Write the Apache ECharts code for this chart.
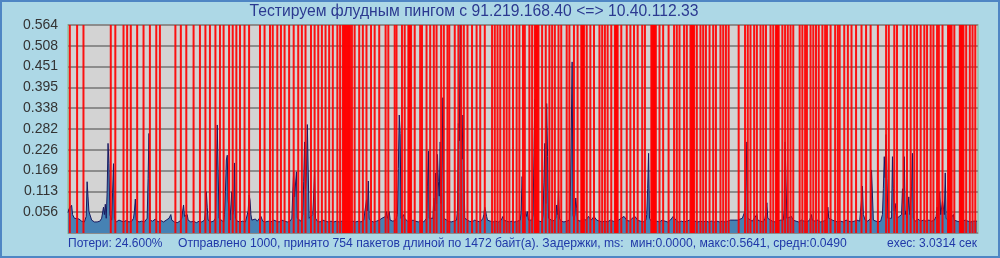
<!DOCTYPE html>
<html><head><meta charset="utf-8">
<script src="https://cdn.jsdelivr.net/npm/echarts@6/dist/echarts.min.js"></script>
<style>html,body{margin:0;padding:0;background:#add8e6;}#c{width:1000px;height:258px;}</style>
</head><body><div id="c"></div>
<script>
const titleText = 'Тестируем флудным пингом с 91.219.168.40 <=> 10.40.112.33';
const lossText = 'Потери: 24.600%';
const statText = 'Отправлено 1000, принято 754 пакетов длиной по 1472 байт(а). Задержки, ms:  мин:0.0000, макс:0.5641, средн:0.0490';
const execText = 'exec: 3.0314 сек';
const packetCount = 1000;
const yMax = 0.5641;
const yStep = 0.05641;

// latency samples [packet index, ms]
const latency = [
[0,0.055],[1,0.065],[3,0.07],[4,0.075],[5,0.05],[7,0.04],[9,0.035],[12,0.038],[15,0.032],[18,0.03],[20,0.045],[21,0.139],[22,0.098],[23,0.058],[24,0.06],[26,0.035],[29,0.03],[32,0.03],[35,0.032],[37,0.04],[38,0.035],[39,0.07],[40,0.05],[41,0.078],[42,0.04],[43,0.11],[44,0.243],[45,0.189],[46,0.05],[48,0.035],[49,0.11],[50,0.188],[51,0.04],[53,0.03],[56,0.035],[58,0.032],[61,0.03],[64,0.034],[67,0.03],[70,0.032],[72,0.04],[73,0.06],[74,0.092],[75,0.035],[78,0.03],[81,0.032],[84,0.03],[86,0.035],[87,0.04],[88,0.148],[89,0.27],[90,0.035],[93,0.032],[96,0.038],[99,0.03],[102,0.034],[105,0.03],[108,0.035],[111,0.04],[112,0.045],[113,0.05],[114,0.035],[117,0.03],[120,0.028],[123,0.032],[125,0.04],[126,0.06],[127,0.076],[128,0.045],[130,0.04],[131,0.05],[132,0.035],[135,0.03],[138,0.032],[141,0.028],[144,0.032],[147,0.03],[150,0.035],[151,0.06],[152,0.112],[153,0.07],[154,0.035],[157,0.03],[160,0.032],[162,0.04],[163,0.163],[164,0.293],[165,0.166],[166,0.04],[168,0.035],[171,0.03],[172,0.05],[173,0.112],[174,0.198],[175,0.211],[176,0.09],[178,0.035],[180,0.112],[181,0.05],[182,0.06],[183,0.19],[184,0.04],[186,0.032],[189,0.03],[192,0.032],[195,0.03],[197,0.035],[198,0.06],[199,0.103],[200,0.09],[201,0.05],[202,0.035],[204,0.04],[206,0.038],[208,0.032],[210,0.035],[212,0.045],[214,0.032],[217,0.03],[220,0.032],[223,0.03],[226,0.035],[229,0.032],[232,0.03],[235,0.035],[238,0.032],[241,0.03],[244,0.032],[246,0.04],[247,0.112],[248,0.166],[249,0.098],[250,0.1],[251,0.166],[252,0.04],[254,0.035],[256,0.032],[258,0.05],[259,0.139],[260,0.247],[261,0.12],[262,0.163],[263,0.294],[264,0.163],[265,0.04],[267,0.035],[269,0.05],[270,0.103],[271,0.169],[272,0.04],[274,0.032],[277,0.03],[280,0.035],[283,0.032],[286,0.03],[289,0.032],[292,0.03],[295,0.032],[298,0.03],[301,0.032],[304,0.03],[307,0.032],[310,0.03],[313,0.032],[316,0.03],[319,0.032],[322,0.03],[325,0.035],[327,0.04],[328,0.09],[329,0.06],[330,0.141],[331,0.04],[333,0.032],[336,0.03],[339,0.032],[342,0.035],[345,0.04],[347,0.035],[349,0.045],[350,0.058],[351,0.04],[353,0.058],[354,0.035],[357,0.032],[360,0.035],[362,0.05],[363,0.175],[364,0.32],[365,0.27],[366,0.04],[368,0.035],[369,0.05],[370,0.04],[373,0.032],[376,0.03],[379,0.035],[380,0.04],[382,0.032],[385,0.03],[388,0.035],[391,0.03],[394,0.04],[395,0.125],[396,0.222],[397,0.04],[399,0.035],[401,0.04],[402,0.095],[403,0.06],[404,0.163],[405,0.08],[406,0.213],[407,0.139],[408,0.1],[409,0.247],[410,0.08],[411,0.198],[412,0.367],[413,0.04],[415,0.035],[418,0.032],[421,0.03],[424,0.032],[427,0.035],[428,0.06],[429,0.297],[430,0.25],[431,0.564],[432,0.297],[433,0.2],[434,0.32],[435,0.189],[436,0.04],[438,0.035],[441,0.032],[444,0.03],[447,0.035],[450,0.032],[453,0.03],[456,0.04],[457,0.05],[458,0.07],[459,0.058],[460,0.045],[461,0.035],[464,0.032],[467,0.03],[470,0.032],[473,0.03],[476,0.035],[478,0.045],[479,0.035],[482,0.032],[485,0.03],[488,0.032],[491,0.03],[494,0.032],[497,0.035],[498,0.06],[499,0.153],[500,0.09],[501,0.04],[503,0.058],[504,0.045],[505,0.058],[506,0.035],[508,0.032],[510,0.035],[511,0.05],[512,0.198],[513,0.363],[514,0.04],[516,0.035],[518,0.032],[521,0.03],[522,0.05],[523,0.136],[524,0.243],[525,0.08],[526,0.351],[527,0.207],[528,0.04],[530,0.035],[533,0.032],[536,0.04],[537,0.076],[538,0.05],[539,0.114],[540,0.04],[542,0.032],[545,0.03],[548,0.032],[551,0.035],[552,0.1],[553,0.263],[554,0.464],[555,0.05],[556,0.035],[557,0.05],[558,0.095],[559,0.067],[560,0.035],[563,0.032],[566,0.04],[569,0.035],[572,0.045],[575,0.035],[578,0.045],[581,0.035],[584,0.032],[587,0.03],[590,0.032],[593,0.03],[596,0.035],[599,0.032],[602,0.03],[605,0.035],[608,0.04],[611,0.045],[614,0.035],[617,0.032],[620,0.04],[623,0.045],[626,0.035],[629,0.032],[632,0.03],[635,0.035],[636,0.05],[637,0.121],[638,0.216],[639,0.04],[641,0.032],[644,0.03],[647,0.032],[650,0.03],[653,0.035],[656,0.032],[659,0.03],[662,0.035],[665,0.045],[668,0.035],[671,0.03],[674,0.032],[677,0.03],[680,0.032],[683,0.035],[686,0.03],[689,0.032],[692,0.03],[695,0.032],[698,0.03],[701,0.032],[704,0.03],[707,0.032],[710,0.03],[713,0.032],[716,0.03],[719,0.032],[722,0.03],[725,0.032],[728,0.035],[730,0.04],[732,0.035],[734,0.04],[736,0.035],[738,0.032],[741,0.04],[743,0.035],[744,0.06],[745,0.139],[746,0.247],[747,0.04],[749,0.035],[752,0.032],[754,0.04],[756,0.045],[757,0.05],[758,0.035],[761,0.032],[764,0.03],[766,0.04],[767,0.058],[768,0.082],[769,0.04],[771,0.035],[774,0.032],[777,0.03],[780,0.032],[783,0.035],[786,0.035],[787,0.06],[788,0.247],[789,0.141],[790,0.04],[792,0.035],[795,0.045],[797,0.035],[800,0.032],[803,0.03],[806,0.035],[809,0.032],[812,0.03],[815,0.035],[816,0.04],[817,0.05],[818,0.035],[821,0.032],[824,0.035],[827,0.03],[830,0.032],[833,0.035],[834,0.045],[835,0.07],[836,0.04],[838,0.045],[840,0.035],[843,0.032],[846,0.03],[849,0.032],[852,0.03],[855,0.035],[858,0.032],[861,0.03],[864,0.032],[867,0.035],[870,0.032],[872,0.09],[873,0.127],[874,0.05],[876,0.035],[879,0.032],[882,0.04],[883,0.171],[884,0.103],[885,0.035],[887,0.032],[890,0.03],[893,0.032],[895,0.05],[896,0.12],[897,0.207],[898,0.15],[899,0.267],[900,0.148],[901,0.04],[903,0.035],[905,0.04],[906,0.207],[907,0.121],[908,0.06],[909,0.08],[910,0.055],[911,0.04],[913,0.035],[916,0.05],[917,0.12],[918,0.08],[919,0.207],[920,0.05],[921,0.06],[922,0.04],[924,0.098],[925,0.05],[927,0.125],[928,0.216],[929,0.04],[931,0.032],[934,0.038],[937,0.032],[940,0.035],[943,0.032],[946,0.035],[949,0.032],[952,0.035],[954,0.045],[955,0.07],[956,0.04],[958,0.112],[959,0.05],[961,0.086],[962,0.09],[963,0.05],[964,0.163],[965,0.04],[968,0.032],[970,0.04],[973,0.05],[974,0.035],[977,0.032],[980,0.03],[983,0.032],[986,0.035],[989,0.032],[992,0.03],[995,0.032],[999,0.032]
];

// lost packet indices
const lost = [2,10,17,47,52,61,65,69,76,83,90,97,101,118,124,130,138,145,151,156,162,
167,171,177,181,185,189,194,199,211,216,222,225,230,234,238,243,248,253,257,261,267,271,275,279,283,287,291,296,299,302,303,304,305,306,307,308,309,310,312,315,320,324,328,333,337,
342,349,352,359,361,367,370,374,375,376,377,381,387,389,394,398,402,405,410,413,417,419,425,429,432,435,439,444,449,453,458,466,469,472,475,479,482,485,489,493,496,500,502,507,
510,513,514,515,516,517,521,525,529,532,535,539,542,548,551,556,560,564,565,566,567,570,574,578,584,587,590,593,597,601,602,603,604,608,614,618,622,626,631,634,641,642,643,644,645,646,650,654,660,666,669,672,677,
680,684,685,686,687,688,691,695,698,701,705,709,712,717,720,723,726,737,744,747,750,754,757,761,764,767,772,775,778,779,780,781,785,788,791,794,797,804,807,810,812,816,819,822,825,829,832,834,838,843,846,
848,853,857,861,866,872,877,882,890,899,902,908,911,918,922,926,930,933,937,941,944,948,951,955,957,961,967,968,969,970,971,974,980,981,982,983,984,987,991,994,997];

const chart = echarts.init(document.getElementById('c'), null, {renderer:'canvas'});
const FONT = '"Liberation Sans", Arial, sans-serif';
chart.setOption({
  animation: false,
  backgroundColor: '#add8e6',
  grid: {left: 68, right: 22, top: 25, bottom: 25, show: true, backgroundColor: '#d3d3d3', borderColor: '#9ccab4', borderWidth: 2},
  xAxis: {type: 'value', min: 0, max: packetCount, show: false},
  yAxis: {type: 'value', min: 0, max: yMax, interval: yStep,
    axisLine: {show: false}, axisTick: {show: false},
    axisLabel: {color: '#333', fontSize: 14, fontFamily: FONT, margin: 10,
      formatter: v => v < 1e-6 ? '' : v.toFixed(3)},
    splitLine: {lineStyle: {color: '#8c8c8c', width: 2}}},
  series: [
    {type: 'line', data: latency, showSymbol: false, symbol: 'none', z: 2,
      lineStyle: {color: '#191a60', width: 1}, areaStyle: {color: '#4682b4', opacity: 1}},
    {type: 'bar', data: lost.map(i => [i, yMax]), barWidth: 2, z: 3,
      itemStyle: {color: 'rgba(255,0,0,0.92)'}}
  ],
  graphic: [
    {type: 'rect', shape: {x: 1, y: 1, width: 998, height: 256}, style: {fill: 'none', stroke: '#4f86c4', lineWidth: 2}, z: 100},
    {type: 'text', x: 474, y: 12, style: {text: titleText, fill: '#2b3990', font: '15.7px ' + FONT, textAlign: 'center', textVerticalAlign: 'middle'}},
    {type: 'text', x: 68, y: 244, style: {text: lossText, fill: '#2038a8', font: '12px ' + FONT, textAlign: 'left', textVerticalAlign: 'middle'}},
    {type: 'text', x: 178, y: 244, style: {text: statText, fill: '#2038a8', font: '12.15px ' + FONT, textAlign: 'left', textVerticalAlign: 'middle'}},
    {type: 'text', x: 977, y: 244, style: {text: execText, fill: '#2038a8', font: '12px ' + FONT, textAlign: 'right', textVerticalAlign: 'middle'}}
  ]
});
</script></body></html>
